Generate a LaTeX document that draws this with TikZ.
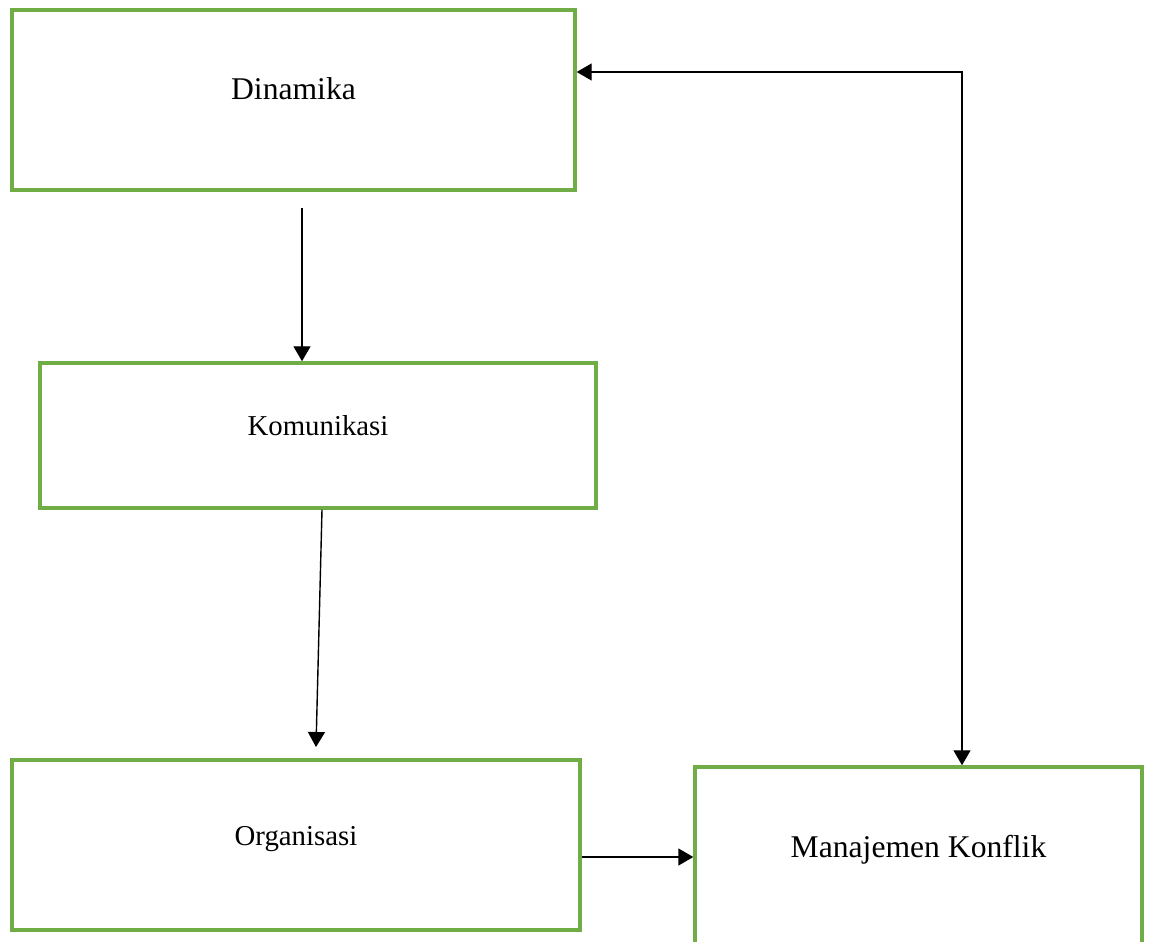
\documentclass[tikz,border=0pt]{standalone}
\usepackage{fontspec}
\setmainfont{Liberation Serif}
\usetikzlibrary{arrows.meta}
\definecolor{boxgreen}{RGB}{112,173,71}

\begin{document}
\begin{tikzpicture}[x=0.02cm,y=-0.02cm,>={Triangle[length=0.3cm,width=0.34cm]},line width=0.8pt,
        main node/.style={rectangle,draw=boxgreen,line width=2pt,text height=0.7em,text depth=0.7em},
        big text/.style={font=\fontsize{18}{22}\selectfont},
        small text/.style={font=\fontsize{16.4}{20}\selectfont}]
        \useasboundingbox (0,0) rectangle (1152,942);
        \node[main node, big text, minimum width=11.26cm, minimum height=3.6cm] (1) at (293.5,100) {Dinamika};
        \node[main node, small text, minimum width=11.12cm, minimum height=2.9cm] (2) at (318,435.5) {Komunikasi};
        \node[main node, small text, minimum width=11.36cm, minimum height=3.4cm] (3) at (296,845) {Organisasi};
        \node[main node, big text, minimum width=8.94cm, minimum height=3.6cm] (4) at (918.5,857) {Manajemen Konflik};
        \coordinate (a) at (302,208);
        \coordinate (b) at (316,747);
        \coordinate (c) at (962,72);
        \path[->]
        (a) edge (a |- 2.north)
        ([xshift=0.08cm]2.south) edge (b)
        (3.east |- 4.west) edge (4.west)
        ;
        \draw[<->] (1.east |- c) -- (c) -- (c |- 4.north);
        \end{tikzpicture}
\end{document}
